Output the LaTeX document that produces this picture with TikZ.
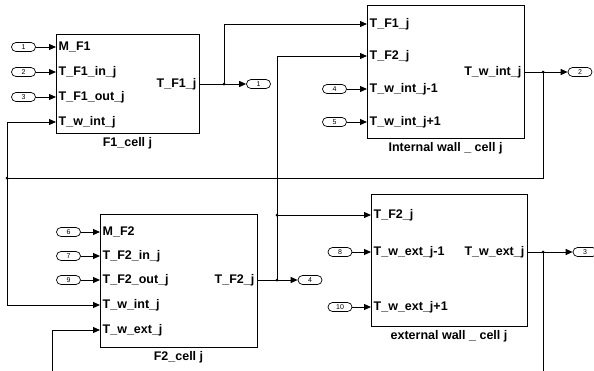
\documentclass[tikz,border=0pt]{standalone}
\usepackage{fontspec}
\setmainfont{Liberation Sans}
\usetikzlibrary{positioning,arrows.meta}
\newcommand{\portfont}{\fontsize{12.5}{14}\selectfont\bfseries}
\tikzset{
  block/.style={draw, line width=1pt, inner sep=0pt},
  blocklabel/.style={font=\portfont, inner sep=1pt, below=2.5pt of #1},
  portin/.style={font=\portfont, anchor=west, inner sep=2.5pt},
  portout/.style={font=\portfont, anchor=east, inner sep=2.5pt},
  portnum/.style={draw, line width=0.7pt, rounded corners=4.5pt, minimum width=24pt,
    minimum height=9pt, inner sep=0pt, font=\fontsize{7}{7}\selectfont},
  sig/.style={line width=1pt, -{Triangle[length=7pt,width=6pt]}},
  wire/.style={line width=1pt},
  junct/.style={circle, fill, inner sep=0pt, minimum size=3pt}
}

\begin{document}
\begin{tikzpicture}[x=1pt,y=-1pt]
  \useasboundingbox (0,0) rectangle (594,370);

  % blocks
  \node[block, minimum width=143pt, minimum height=99pt]  (f1) at (127.5,83.5) {};
  \node[block, minimum width=157pt, minimum height=133pt] (iw) at (445.5,71.5) {};
  \node[block, minimum width=157pt, minimum height=133pt] (f2) at (178.5,280.5) {};
  \node[block, minimum width=156pt, minimum height=132pt] (ew) at (449,260) {};
  \node[blocklabel=f1] {F1\_cell j};
  \node[blocklabel=iw] {Internal wall \_ cell j};
  \node[blocklabel=f2] {F2\_cell j};
  \node[blocklabel=ew] {external wall \_ cell j};

  % F1 cell
  \node[portin] (f1m) at (56,47)  {M\_F1};
  \node[portin] (f1i) at (56,72)  {T\_F1\_in\_j};
  \node[portin] (f1o) at (56,97)  {T\_F1\_out\_j};
  \node[portin] (f1w) at (56,122) {T\_w\_int\_j};
  \node[portout] (f1t) at (199,84) {T\_F1\_j};
  \node[portnum] (n1) at (23.5,47) {1};
  \node[portnum] (n2) at (23.5,72) {2};
  \node[portnum] (n3) at (23.5,97) {3};
  \node[portnum] (o1) at (258.5,84) {1};

  % internal wall
  \node[portin] (iwa) at (367,24)  {T\_F1\_j};
  \node[portin] (iwb) at (367,56)  {T\_F2\_j};
  \node[portin] (iwc) at (367,89)  {T\_w\_int\_j-1};
  \node[portin] (iwd) at (367,122) {T\_w\_int\_j+1};
  \node[portout] (iwt) at (524,72) {T\_w\_int\_j};
  \node[portnum] (n4) at (334.5,89)  {4};
  \node[portnum] (n5) at (334.5,122) {5};
  \node[portnum] (o2) at (580,72) {2};

  % F2 cell
  \node[portin] (f2m) at (100,232) {M\_F2};
  \node[portin] (f2i) at (100,256) {T\_F2\_in\_j};
  \node[portin] (f2o) at (100,280) {T\_F2\_out\_j};
  \node[portin] (f2w) at (100,305) {T\_w\_int\_j};
  \node[portin] (f2e) at (100,330) {T\_w\_ext\_j};
  \node[portout] (f2t) at (257,280) {T\_F2\_j};
  \node[portnum] (n6) at (68.5,232) {6};
  \node[portnum] (n7) at (68.5,256) {7};
  \node[portnum] (n9) at (68.5,280) {9};
  \node[portnum] (o4) at (310,280) {4};

  % external wall
  \node[portin] (ewa) at (371,215) {T\_F2\_j};
  \node[portin] (ewb) at (371,252) {T\_w\_ext\_j-1};
  \node[portin] (ewc) at (371,307) {T\_w\_ext\_j+1};
  \node[portout] (ewt) at (527,252) {T\_w\_ext\_j};
  \node[portnum] (n8)  at (340,252) {8};
  \node[portnum] (n10) at (340,307) {10};
  \node[portnum] (o3) at (585,252) {3};

  % branch points
  \node[junct] (j1) at (224,84) {};
  \node[junct] (j2) at (543,72) {};
  \node[junct] (j3) at (7,178) {};
  \node[junct] (j4) at (277,280) {};
  \node[junct] (j5) at (277,215) {};
  \node[junct] (j6) at (543,252) {};
  \coordinate (wallext) at (52,372);
  \coordinate (downext) at (543,372);

  % inputs
  \foreach \a/\b in {n1/f1m, n2/f1i, n3/f1o, n4/iwc, n5/iwd,
                     n6/f2m, n7/f2i, n9/f2o, n8/ewb, n10/ewc}
    \draw[sig] (\a) -- (\b.west);

  % outputs
  \draw[sig] (f1t.east) -- (o1);
  \draw[sig] (iwt.east) -- (o2);
  \draw[sig] (f2t.east) -- (o4);
  \draw[sig] (ewt.east) -- (o3);

  % feedback
  \draw[sig] (j1.center) |- (iwa.west);
  \draw[sig] (j4.center) |- (iwb.west);
  \draw[sig] (j5.center) -- (ewa.west);
  \draw[wire] (j2.center) |- (j3.center);
  \draw[sig] (j3.center) |- (f1w.west);
  \draw[sig] (j3.center) |- (f2w.west);
  \draw[sig] (wallext) |- (f2e.west);
  \draw[wire] (j6.center) -- (downext);
\end{tikzpicture}
\end{document}
